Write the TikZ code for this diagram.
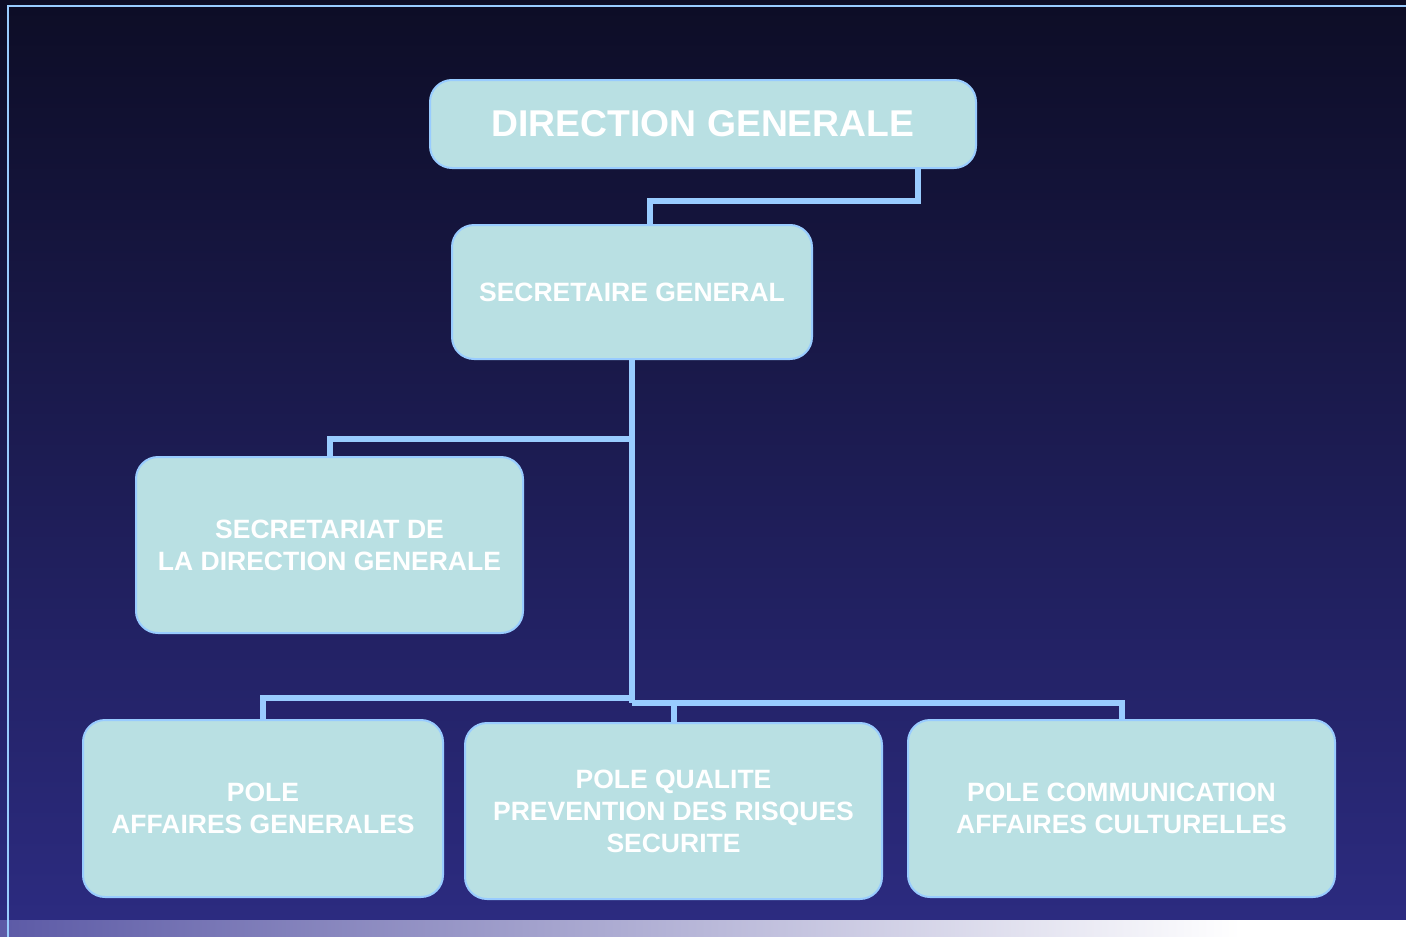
\documentclass[tikz,border=0pt]{standalone}
\usepackage{fontspec}
\setmainfont{Liberation Sans}
\usepackage{tikz}
\usetikzlibrary{calc}
\usetikzlibrary{positioning}
\definecolor{bgtop}{RGB}{13,13,38}
\definecolor{bgbot}{RGB}{44,43,128}
\definecolor{linkblue}{RGB}{153,204,255}
\definecolor{boxfill}{RGB}{185,224,227}
\definecolor{stripleft}{RGB}{92,90,166}

\begin{document}
\begin{tikzpicture}[x=1pt,y=-1pt,semithick]
 \tikzstyle{box}=[draw=linkblue, line width=2pt, fill=boxfill, rounded corners=22pt, align=center, text=white, font=\bfseries\fontsize{26.5}{32}\selectfont, inner sep=0pt]
 \tikzstyle{link}=[draw=linkblue, line width=6pt]
 % fond
 \useasboundingbox (0,0) rectangle (1406,937);
 \shade[top color=bgtop, bottom color=bgbot] (0,0) rectangle (1406,920);
 \shade[left color=stripleft, right color=white] (0,920) rectangle (1240,937);
 \fill[white] (1240,920) rectangle (1406,937);
 \draw[linkblue, line width=2.5pt] (8,937) -- (8,6) -- (1406,6);
 % noeuds
 \node[box, minimum width=546pt, minimum height=88pt, font=\bfseries\fontsize{37.3}{40}\selectfont] (DG) at (703,124) {DIRECTION GENERALE};
 \node[box, minimum width=360pt, minimum height=134pt] (SG) at (632,292) {SECRETAIRE GENERAL};
 \node[box, minimum width=387pt, minimum height=176pt] (SEC) at (329.5,545) {SECRETARIAT DE\\LA DIRECTION GENERALE};
 \node[box, minimum width=360pt, minimum height=177pt] (PAG) at (263,808.5) {POLE\\AFFAIRES GENERALES};
 \node[box, minimum width=417pt, minimum height=176pt] (PQ) at (673.5,811) {POLE QUALITE\\PREVENTION DES RISQUES\\SECURITE};
 \node[box, minimum width=427pt, minimum height=177pt] (PC) at (1121.5,808.5) {POLE COMMUNICATION\\AFFAIRES CULTURELLES};
 \coordinate (hubL) at (632,698);
 \coordinate (hubR) at (632,703);
 % liens
 \draw[link] ([xshift=215pt]DG.south) -- ++(0,32) -| ([xshift=18pt]SG.north);
 \draw[link] (SG.south) -- (hubR);
 \draw[link] ($(SG.south)+(0,79)$) -| (SEC.north);
 \draw[link] (hubL) -| (PAG.north);
 \draw[link] (hubR) -| (PC.north);
 \draw[link] (hubR -| PQ.north) -- (PQ.north);
\end{tikzpicture}
\end{document}
